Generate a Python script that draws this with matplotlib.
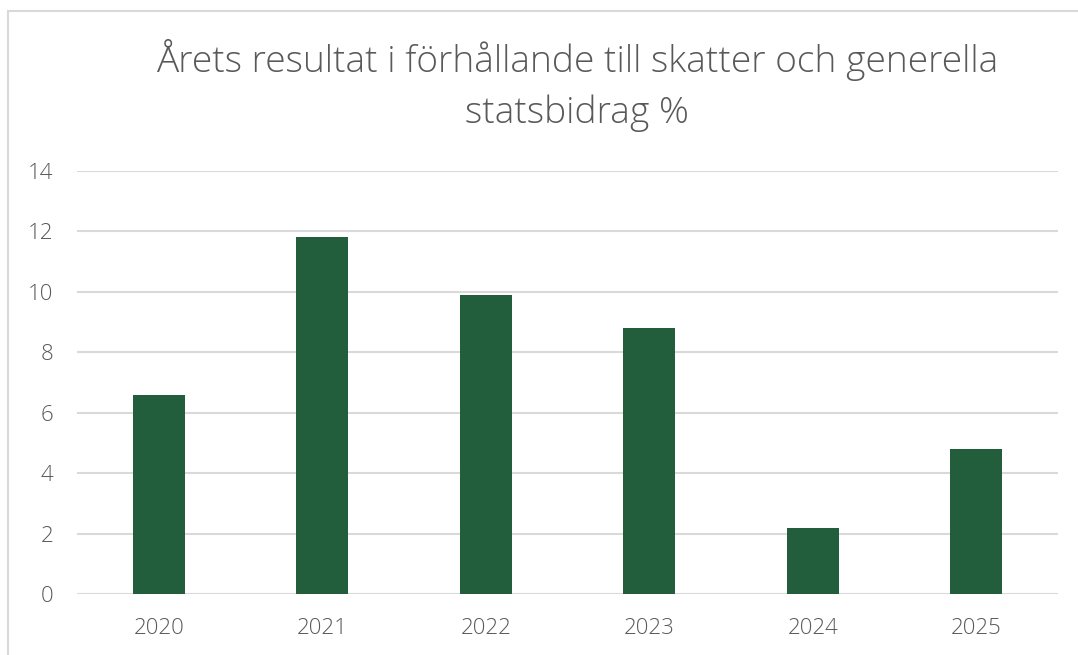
import matplotlib
matplotlib.use("Agg")
import matplotlib.pyplot as plt
from matplotlib.lines import Line2D

years = ["2020", "2021", "2022", "2023", "2024", "2025"]
values = [6.6, 11.8, 9.9, 8.8, 2.2, 4.8]
yticks = [0, 2, 4, 6, 8, 10, 12, 14]
title_lines = ["Årets resultat i förhållande till skatter och generella", "statsbidrag %"]

plt.rcParams['font.family'] = ['Open Sans', 'DejaVu Sans']
W, H = 1078, 655
fig = plt.figure(figsize=(W / 100, H / 100), dpi=100)
ax = fig.add_axes([77 / W, 1 - 594 / H, (1058 - 77) / W, (594 - 171) / H])

x = list(range(len(years)))
ax.bar(x, values, width=0.32, color="#225E3C", zorder=3)
ax.set_xlim(-0.5, len(years) - 0.5)
ax.set_ylim(0, 14)
ax.set_yticks(yticks)
ax.set_xticks(x)
ax.set_xticklabels(years)
ax.grid(axis="y", color="#d9d9d9", linewidth=1.5, zorder=0)
for s in ax.spines.values():
    s.set_visible(False)
ax.tick_params(axis="both", length=0, labelsize=16, labelcolor="#595959")
ax.tick_params(axis="y", pad=17)
ax.tick_params(axis="x", pad=17)
for lab in ax.get_xticklabels() + ax.get_yticklabels():
    lab.set_fontweight("light")

for txt, yb in zip(title_lines, [72, 123]):
    fig.text(577 / W, 1 - yb / H, txt, ha="center", va="baseline", fontsize=26.7,
             color="#595959", fontweight="light")

fig.add_artist(Line2D([7.5 / W, 7.5 / W], [0, 1 - 11 / H], color="#d9d9d9", linewidth=1.5))
fig.add_artist(Line2D([7.5 / W, 1], [1 - 11 / H, 1 - 11 / H], color="#d9d9d9", linewidth=1.5))

fig.savefig("out.png", dpi=100)
